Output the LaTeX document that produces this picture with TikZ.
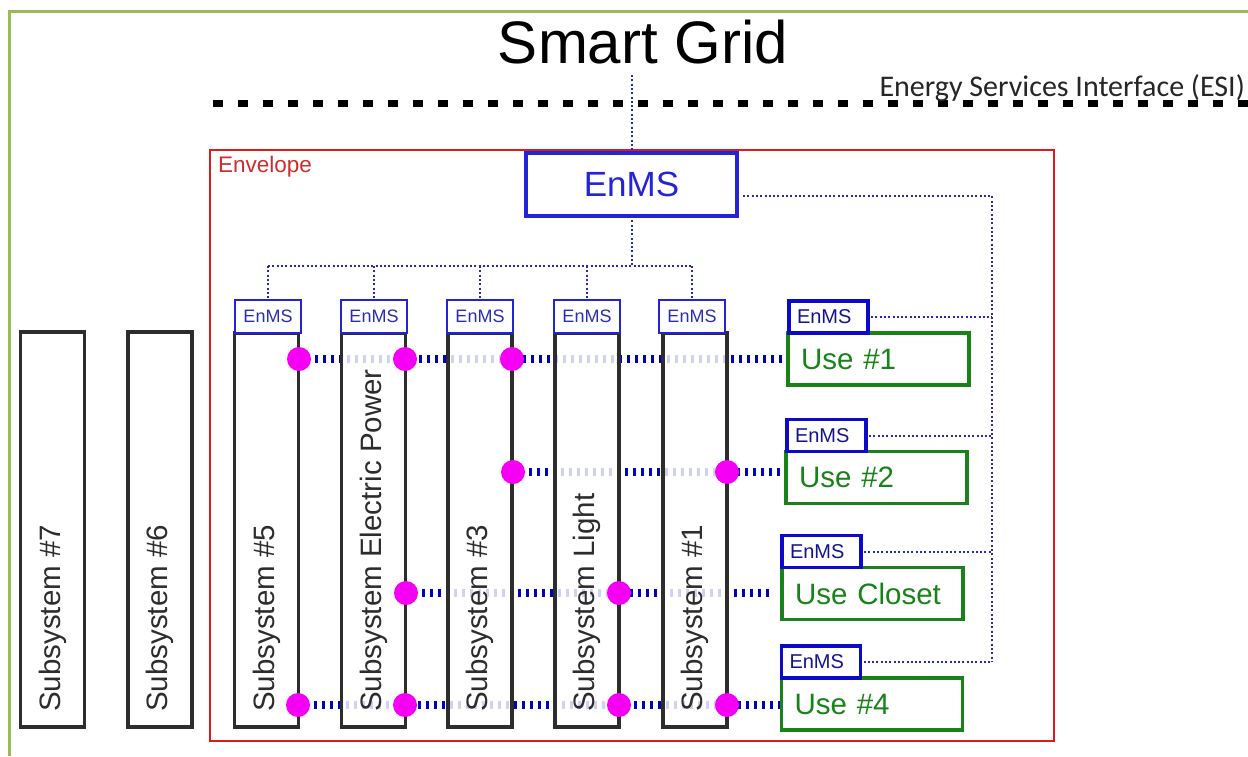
\documentclass[tikz,border=0pt]{standalone}
\usepackage{fontspec}
\setmainfont{Liberation Sans}
\newfontfamily\calfont{Carlito}
\definecolor{framegreen}{RGB}{155,187,89}
\definecolor{envred}{RGB}{225,25,25}
\definecolor{envtext}{RGB}{205,45,45}
\definecolor{enblue}{RGB}{35,35,215}
\definecolor{enbluetext}{RGB}{45,45,175}
\definecolor{enbluedark}{RGB}{10,10,200}
\definecolor{enbluedarktext}{RGB}{20,20,140}
\definecolor{dotblue}{RGB}{40,40,180}
\definecolor{linkblue}{RGB}{0,0,185}
\definecolor{usegreen}{RGB}{25,130,25}
\definecolor{colgray}{RGB}{45,45,45}
\definecolor{dotmag}{RGB}{245,0,245}
\pgfdeclarelayer{back}
\pgfdeclarelayer{links}
\pgfdeclarelayer{fg}
\pgfsetlayers{back,links,main,fg}
\tikzset{
  dotline/.style={draw=dotblue, line width=2pt, dash pattern=on 2pt off 2.3pt},
  link/.style={draw=linkblue, line width=8pt, dash pattern=on 3pt off 5pt},
  col/.style={draw=colgray, line width=3.4pt, fill=white, fill opacity=0.82, minimum width=64pt, minimum height=394pt, inner sep=0pt, outer sep=0pt},
  coltext/.style={rotate=90, anchor=west, inner sep=0pt, font=\fontsize{29.5}{30}\selectfont, text=colgray},
  smallenms/.style={draw=enblue, line width=2.8pt, fill=white, minimum width=66pt, minimum height=33pt, inner sep=0pt, outer sep=0pt, font=\fontsize{18}{18}\selectfont, text=enbluetext},
  renms/.style={draw=enbluedark, line width=3.5pt, fill=white, text width=63pt, align=left, inner xsep=8pt, inner ysep=0pt, minimum height=32pt, outer sep=0pt, font=\fontsize{20}{20}\selectfont, text=enbluedarktext},
  usebox/.style={draw=usegreen, line width=3.3pt, fill=white, text width=155pt, align=left, inner xsep=13pt, inner ysep=0pt, minimum height=52pt, outer sep=0pt, font=\fontsize{29.5}{30}\selectfont, text=usegreen},
  bigenms/.style={draw=enblue, line width=3.3pt, fill=white, minimum width=211pt, minimum height=63pt, inner sep=0pt, outer sep=0pt, font=\fontsize{35}{35}\selectfont, text=enblue},
  magdot/.style={circle, fill=dotmag, minimum size=24pt, inner sep=0pt}
}
\begin{document}
\begin{tikzpicture}[x=1pt,y=-1pt]
\useasboundingbox (0,0) rectangle (1248,756);
\begin{pgfonlayer}{back}
  \fill[white] (0,0) rectangle (1248,756);
  \draw[framegreen, line width=2.8pt] (9.5,756) -- (9.5,11.5) -- (1248,11.5);
  \node[draw=envred, line width=2.8pt, minimum width=844pt, minimum height=591pt, inner sep=0pt] (env) at (632,445.5) {};
  \coordinate (esiL) at (213,103);
  \coordinate (esiR) at (1248,103);
  \draw[black, line width=7pt, dash pattern=on 10pt off 15pt] (esiL) -- (esiR);
\end{pgfonlayer}

% titles
\node[anchor=base, inner sep=0pt, font=\fontsize{60}{60}\selectfont] (sg) at (643,63) {Smart Grid};
\node[anchor=base east, inner sep=0pt, font=\calfont\fontsize{30}{30}\selectfont, text=black!85] (esi) at (1245,96) {Energy Services Interface (ESI)};
\node[anchor=base west, inner sep=0pt, font=\fontsize{22.5}{22.5}\selectfont, text=envtext] (envl) at (218,172) {Envelope};

% columns
\node[col, minimum height=395pt] (c7) at (52.5,529.5) {};
\node[col, minimum height=395pt] (c6) at (160,529.5) {};
\node[col] (c5) at (266.5,530) {};
\node[col] (cep) at (373.5,530) {};
\node[col] (c3) at (480,530) {};
\node[col] (cl) at (587,530) {};
\node[col] (c1) at (695,530) {};

\node[coltext] (t7) at (52.5,712) {Subsystem \#7};
\node[coltext] (t6) at (160,712) {Subsystem \#6};
\node[coltext] (t5) at (266.5,712) {Subsystem \#5};
\node[coltext] (tep) at (373.5,712) {Subsystem Electric Power};
\node[coltext] (t3) at (480,712) {Subsystem \#3};
\node[coltext] (tl) at (587,712) {Subsystem Light};
\node[coltext] (t1) at (695,712) {Subsystem \#1};

% EnMS boxes
\node[bigenms] (enms) at (631.5,184.5) {EnMS};
\node[smallenms, anchor=south] (e5) at ([xshift=1.5pt]c5.north) {EnMS};
\node[smallenms, anchor=south] (eep) at ([xshift=0.5pt]cep.north) {EnMS};
\node[smallenms, anchor=south] (e3) at (c3.north) {EnMS};
\node[smallenms, anchor=south] (el) at (cl.north) {EnMS};
\node[smallenms, anchor=south] (e1) at ([xshift=-3pt]c1.north) {EnMS};

% use boxes
\node[usebox] (u1) at (878.5,359) {Use \#1};
\node[usebox] (u2) at (876.5,477.5) {Use \#2};
\node[usebox] (u3) at (872.5,593.5) {Use Closet};
\node[usebox] (u4) at (872,704) {Use \#4};
\node[renms, anchor=south west] (ue1) at ([xshift=1pt]u1.north west) {EnMS};
\node[renms, anchor=south west] (ue2) at ([xshift=1pt]u2.north west) {EnMS};
\node[renms, anchor=south west] (ue3) at (u3.north west) {EnMS};
\node[renms, anchor=south west] (ue4) at (u4.north west) {EnMS};

% magenta junctions
\begin{pgfonlayer}{fg}
  \node[magdot] (r1a) at (299,359) {};
  \node[magdot] (r1b) at (405,359) {};
  \node[magdot] (r1c) at (512,359) {};
  \node[magdot] (r2a) at (513,472) {};
  \node[magdot] (r2b) at (727,472) {};
  \node[magdot] (r3a) at (406,593) {};
  \node[magdot] (r3b) at (619,593) {};
  \node[magdot] (r4a) at (298,705) {};
  \node[magdot] (r4b) at (405,705) {};
  \node[magdot] (r4c) at (619,705) {};
  \node[magdot] (r4d) at (727,705) {};
\end{pgfonlayer}

% connectors
\begin{pgfonlayer}{links}
  \draw[link] (r1a.center) -- (u1.west |- r1a.center);
  \draw[link] (r2a.center) -- (u2.west |- r2a.center);
  \draw[link, shorten >=9pt] (r3a.center) -- (u3.west |- r3a.center);
  \draw[link] (r4a.center) -- (u4.west |- r4a.center);

  \coordinate (sgtap) at (632,75);
  \draw[dotline] (sgtap) -- (enms.north -| sgtap);
  \coordinate (bus) at (632,266);
  \draw[dotline] (enms.south -| bus) -- (bus);
  \draw[dotline] (e5.north |- bus) -- (e1.north |- bus);
  \draw[dotline] (e5.north |- bus) -- (e5.north);
  \draw[dotline] (eep.north |- bus) -- (eep.north);
  \draw[dotline] (e3.north |- bus) -- (e3.north);
  \draw[dotline] (el.north |- bus) -- (el.north);
  \draw[dotline] (e1.north |- bus) -- (e1.north);

  \coordinate (tstart) at (743,196);
  \coordinate (trunk) at (992,196);
  \draw[dotline] (tstart) -- (trunk) -- (ue4.east -| trunk);
  \draw[dotline] ([xshift=3pt]ue1.east) -- (ue1.east -| trunk);
  \draw[dotline] ([xshift=3pt]ue2.east) -- (ue2.east -| trunk);
  \draw[dotline] ([xshift=3pt]ue3.east) -- (ue3.east -| trunk);
  \draw[dotline] ([xshift=3pt]ue4.east) -- (ue4.east -| trunk);
\end{pgfonlayer}
\end{tikzpicture}
\end{document}
